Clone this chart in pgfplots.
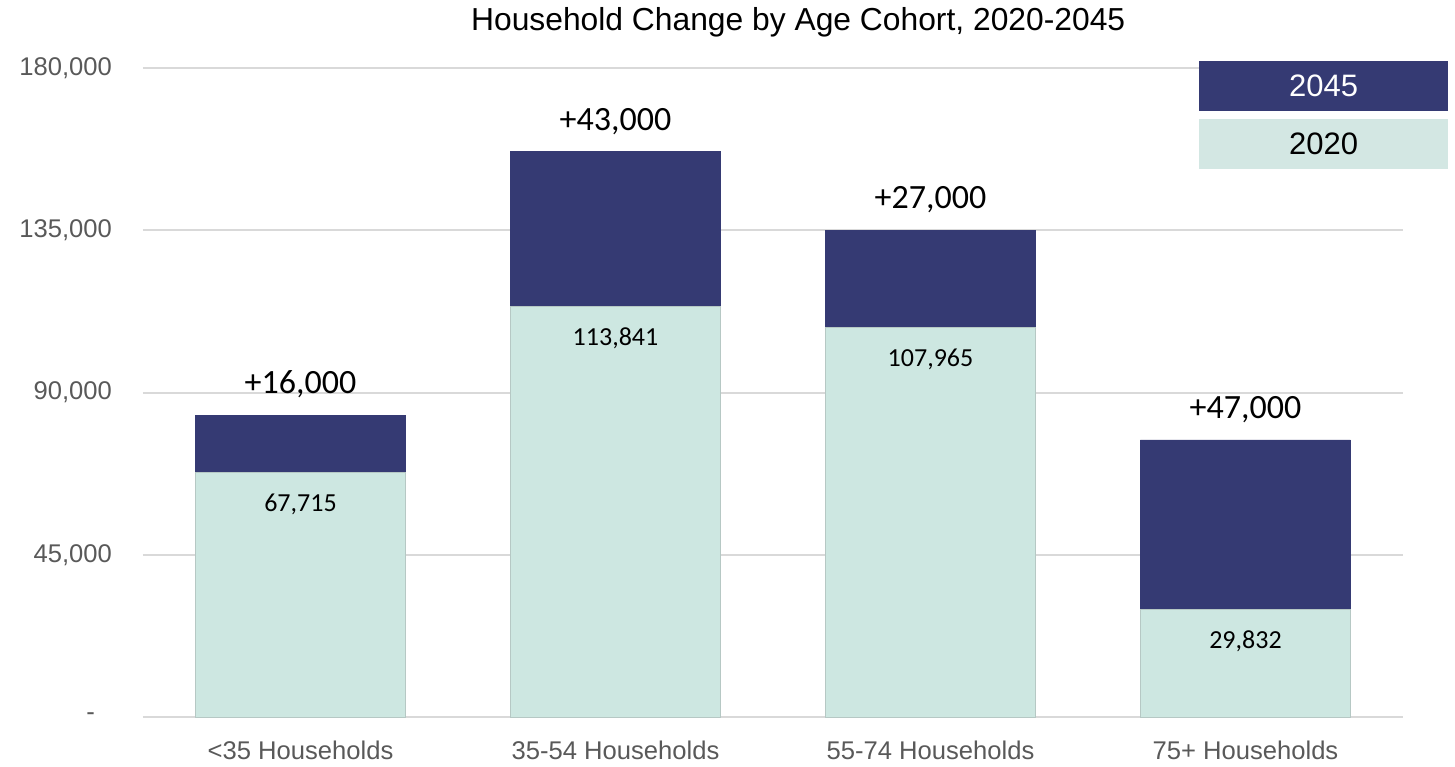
\documentclass[border=0pt]{standalone}
\usepackage{pgfplots}
\pgfplotsset{compat=1.18}
\usepackage{pgfplotstable}
\usepackage{fontspec}
\setmainfont{Liberation Sans}
\newfontfamily\calib{Carlito}
\definecolor{navy}{HTML}{353A73}
\definecolor{mint}{HTML}{CDE7E1}
\definecolor{legmint}{HTML}{D3E7E3}
\definecolor{tickgray}{HTML}{595959}
\definecolor{gridgray}{HTML}{D9D9D9}
\pgfplotstableread{
x y
0 67715
1 113841
2 107965
3 29832
}\base
\pgfplotstableread{
x y
0 16000
1 43000
2 27000
3 47000
}\growth
\pgfplotstableread{
x base total blabel glabel
0 67715 83715 67,715 +16,000
1 113841 156841 113,841 +43,000
2 107965 134965 107,965 +27,000
3 29832 76832 29,832 +47,000
}\labels
\pgfplotsset{
  common/.style={
    scale only axis,
    width=630pt, height=324.5pt,
    xmin=-0.5, xmax=3.5,
    ymin=0, ymax=180000,
    clip=false,
  }
}
\begin{document}
\begin{tikzpicture}
\begin{axis}[
  common,
  ybar stacked,
  bar width=105pt,
  axis line style={draw=none},
  ymajorgrids=true,
  grid style={gridgray, line width=1pt},
  scaled y ticks=false,
  xtick={0,1,2,3},
  xticklabels={{<35 Households},{35-54 Households},{55-74 Households},{75+ Households}},
  ytick={0,45000,90000,135000,180000},
  yticklabels={{-\,\,\,\,},{45,000},{90,000},{135,000},{180,000}},
  major tick length=0pt,
  tick style={draw=none},
  yticklabel style={font=\fontsize{12.8}{14}\selectfont, text=tickgray, anchor=east, xshift=-12pt},
  xticklabel style={font=\fontsize{12.8}{14}\selectfont, text=tickgray, anchor=center, yshift=-16.5pt},
]
\addplot[fill=mint, draw=mint!70!gray, line width=0.4pt]
  table[x=x, y=y] {\base};
\addplot[fill=navy, draw=navy]
  table[x=x, y=y] {\growth};
\node[font=\fontsize{15.9}{18}\selectfont] at (rel axis cs:0.52,1.071) {Household Change by Age Cohort, 2020-2045};
\end{axis}
\begin{axis}[
  common,
  axis lines=none,
]
\addplot[draw=none, mark=none,
  nodes near coords, point meta=explicit symbolic,
  every node near coord/.append style={anchor=north, yshift=-7pt, font=\calib\fontsize{13}{15}\selectfont, text=black}]
  table[x=x, y=base, meta=blabel] {\labels};
\addplot[draw=none, mark=none,
  nodes near coords, point meta=explicit symbolic,
  every node near coord/.append style={anchor=south, yshift=5pt, font=\calib\fontsize{17}{19}\selectfont, text=black}]
  table[x=x, y=total, meta=glabel] {\labels};
\node[fill=navy, text=white, font=\fontsize{15.5}{17}\selectfont, minimum width=124.5pt, minimum height=25pt, inner sep=0pt] at (rel axis cs:0.937,0.9724) {2045};
\node[fill=legmint, text=black, font=\fontsize{15.5}{17}\selectfont, minimum width=124.5pt, minimum height=25pt, inner sep=0pt] at (rel axis cs:0.937,0.8828) {2020};
\useasboundingbox (rel axis cs:-0.1135,-0.0709) rectangle (rel axis cs:1.0413,1.1048);
\end{axis}
\end{tikzpicture}
\end{document}
